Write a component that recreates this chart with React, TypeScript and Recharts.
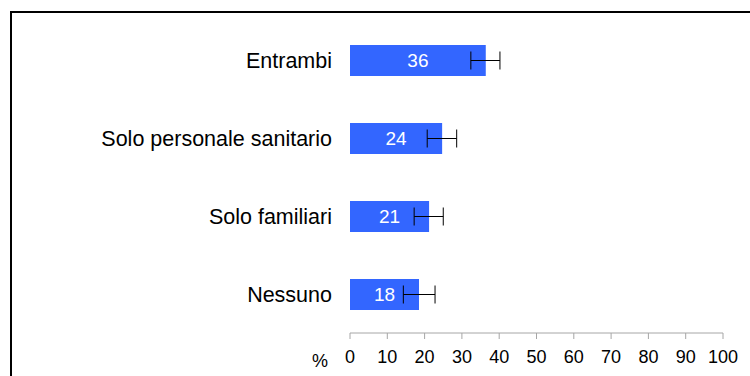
import { Bar, BarChart, ErrorBar, LabelList, XAxis, YAxis } from 'recharts';

const CATEGORIES = ['Entrambi', 'Solo personale sanitario', 'Solo familiari', 'Nessuno'];
const VALUES = [36.4, 24.7, 21.2, 18.5];
const ERR_LOW = [4.0, 4.0, 4.0, 4.2];
const ERR_HIGH = [3.8, 3.9, 3.8, 4.3];
const X_TICKS = [0, 10, 20, 30, 40, 50, 60, 70, 80, 90, 100];

const FONT = '"Liberation Sans", Arial, sans-serif';
const BAR_COLOR = '#3366ff';
const AXIS_COLOR = '#a6a6a6';

const data = CATEGORIES.map((name, i) => ({
  name,
  value: VALUES[i],
  err: [ERR_LOW[i], ERR_HIGH[i]],
}));

export default function App() {
  return (
    <div
      style={{
        position: 'absolute',
        left: 0,
        top: 0,
        width: 750,
        height: 376,
        overflow: 'hidden',
        background: '#fff',
        fontFamily: FONT,
      }}
    >
      <div
        style={{
          position: 'absolute',
          left: 10,
          top: 11,
          width: 800,
          height: 420,
          border: '2px solid #000',
        }}
      />
      <div style={{ position: 'absolute', left: 0, top: 0 }}>
        <BarChart
          width={750}
          height={376}
          data={data}
          layout="vertical"
          margin={{ top: 21, right: 27, bottom: 13, left: 10 }}
          barSize={31}
        >
          <XAxis
            type="number"
            domain={[0, 100]}
            ticks={X_TICKS}
            interval={0}
            height={30}
            axisLine={{ stroke: AXIS_COLOR }}
            tickLine={{ stroke: AXIS_COLOR }}
            tickSize={6}
            tickMargin={11}
            tick={{ fill: '#000', fontSize: 18, fontFamily: FONT }}
          />
          <YAxis
            type="category"
            dataKey="name"
            width={340}
            axisLine={false}
            tickLine={false}
            tickSize={0}
            tickMargin={18}
            tick={{ fill: '#000', fontSize: 21.5, fontFamily: FONT }}
          />
          <Bar dataKey="value" fill={BAR_COLOR} isAnimationActive={false}>
            <LabelList
              dataKey="value"
              position="center"
              fill="#fff"
              fontSize={19}
              fontFamily={FONT}
              formatter={(v: number) => Math.floor(v)}
            />
            <ErrorBar
              dataKey="err"
              direction="x"
              width={9}
              stroke="#000"
              strokeWidth={1}
              isAnimationActive={false}
            />
          </Bar>
        </BarChart>
      </div>
      <span
        style={{
          position: 'absolute',
          left: 312,
          top: 351,
          fontSize: 18,
          color: '#000',
          fontFamily: FONT,
        }}
      >
        %
      </span>
    </div>
  );
}
